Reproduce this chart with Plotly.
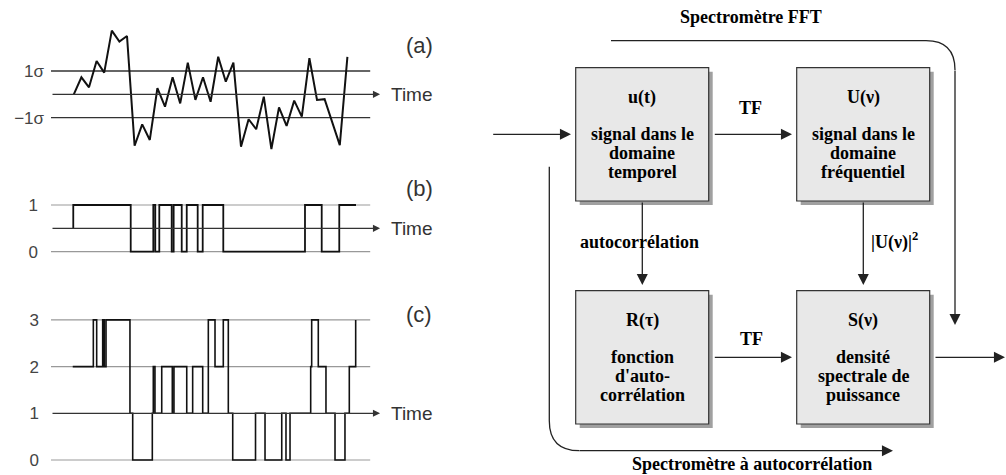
import plotly.graph_objects as go

W, H = 1006, 475
SANS = 'Liberation Sans'
SERIF = 'Liberation Serif'

# (a) analog signal, values in units of sigma
a_time = [3, 4, 5, 6, 7, 8, 9, 10, 11, 12, 13, 14, 15, 16, 17, 18, 19, 20,
          21, 22, 23, 24, 25, 26, 27, 28, 29, 30, 31, 32, 33, 34, 35, 36, 38, 39]
a_value = [0, 0.73, 0.30, 1.43, 0.93, 2.73, 2.26, 2.50, -2.21, -1.29, -1.96, 0.26,
           -0.53, 0.73, -0.39, 1.36, -0.24, 0.73, -0.32, 1.61, 0.54, 1.36, -2.25,
           -1.07, -1.50, -0.10, -2.35, -0.56, -1.36, -0.27, -0.96, 1.55, -0.24,
           -0.21, -2.18, 1.61]

# (b) one-bit quantized signal (step times, level after the step)
b_time = [2.93, 2.93, 10.49, 13.46, 13.72, 14.25, 15.88, 16.14, 17.20, 17.86,
          19.30, 19.96, 22.67, 33.42, 35.62, 37.93, 40.13]
b_level = [0.5, 1, 0, 1, 0, 1, 0, 1, 0, 1, 0, 1, 0, 1, 0, 1, 1]

# (c) two-bit (four level) quantized signal
c_time = [2.86, 5.57, 6.01, 6.80, 7.01, 7.24, 10.39, 10.75, 13.33, 13.46, 13.68,
          14.57, 15.96, 16.18, 17.86, 18.64, 19.96, 20.70, 21.58, 22.67, 23.33,
          23.91, 26.91, 28.16, 30.36, 30.92, 31.45, 34.17, 34.30, 35.17, 36.18,
          37.37, 38.68, 39.25, 40.09]
c_level = [2, 3, 2, 3, 2, 3, 1, 0, 1, 2, 1, 2, 1, 2, 1, 2, 1, 3, 2, 3, 1, 0, 1,
           0, 1, 0, 1, 2, 3, 2, 1, 0, 1, 2, 3]

a_ticks = [1, -1]
a_ticktext = ['1σ', '−1σ']
b_ticks = [1, 0]
c_ticks = [3, 2, 1, 0]

# diagram boxes: (left, top, title, lines)
BOXES = [
    (575.7, 67.7, 'u(t)', ['signal dans le', 'domaine', 'temporel']),
    (796.7, 67.7, 'U(ν)', ['signal dans le', 'domaine', 'fréquentiel']),
    (575.7, 290.7, 'R(τ)', ['fonction', "d'auto-", 'corrélation']),
    (796.7, 290.7, 'S(ν)', ['densité', 'spectrale de', 'puissance']),
]
BOX_W, BOX_H = 133, 133.3

X0, STEP, TMAX = 51, 7.6, 44


def ydom(bottom_px, top_px):
    return [1 - bottom_px / H, 1 - top_px / H]


fig = go.Figure()

fig.add_trace(go.Scatter(x=a_time, y=a_value, mode='lines',
                         line=dict(color='#111', width=2), xaxis='x', yaxis='y'))
fig.add_trace(go.Scatter(x=b_time, y=b_level, mode='lines', line_shape='hv',
                         line=dict(color='#111', width=1.8), xaxis='x2', yaxis='y2'))
fig.add_trace(go.Scatter(x=c_time, y=c_level, mode='lines', line_shape='hv',
                         line=dict(color='#111', width=1.6), xaxis='x3', yaxis='y3'))
# empty trace so the pixel overlay axes exist
fig.add_trace(go.Scatter(x=[], y=[], xaxis='x4', yaxis='y4'))

xdom = [X0 / W, (X0 + TMAX * STEP) / W]
tickfont = dict(family=SANS, size=17, color='#444')
common_x = dict(range=[0, TMAX], domain=xdom, visible=False, automargin=False)
common_y = dict(showgrid=False, zeroline=False, showline=False, ticks='',
                tickfont=tickfont, automargin=False)

fig.update_layout(
    width=W, height=H,
    margin=dict(l=0, r=0, t=0, b=0, pad=0),
    plot_bgcolor='rgba(0,0,0,0)', paper_bgcolor='white',
    showlegend=False,
    xaxis=dict(common_x, anchor='y'),
    xaxis2=dict(common_x, anchor='y2'),
    xaxis3=dict(common_x, anchor='y3'),
    yaxis=dict(common_y, anchor='x', range=[-3, 3], domain=ydom(164.2, 24.4),
               tickvals=a_ticks, ticktext=a_ticktext, ticklabelstandoff=6),
    yaxis2=dict(common_y, anchor='x2', range=[-0.5, 1.5], domain=ydom(275.05, 181.65),
                tickvals=b_ticks, ticklabelstandoff=12),
    yaxis3=dict(common_y, anchor='x3', range=[-0.3, 3.3], domain=ydom(474.01, 305.89),
                tickvals=c_ticks, ticklabelstandoff=11),
    xaxis4=dict(range=[0, W], domain=[0, 1], visible=False, anchor='y4', automargin=False),
    yaxis4=dict(range=[H, 0], domain=[0, 1], visible=False, anchor='x4', automargin=False),
)

# reference levels of the three signal panels
END = 42
for v in [1, -1]:
    fig.add_shape(type='line', xref='x', yref='y', x0=0, x1=END, y0=v, y1=v,
                  line=dict(color='#333', width=1.4), layer='below')
for v in [0, 1]:
    fig.add_shape(type='line', xref='x2', yref='y2', x0=0, x1=END, y0=v, y1=v,
                  line=dict(color='#999', width=1.2), layer='below')
for v in [0, 2, 3]:
    fig.add_shape(type='line', xref='x3', yref='y3', x0=0, x1=END, y0=v, y1=v,
                  line=dict(color='#999', width=1.2), layer='below')

for ax, v in [('', 0), ('2', 0.5), ('3', 1)]:
    fig.add_annotation(x=43.3, y=v, ax=0, ay=v, xref='x' + ax, yref='y' + ax,
                       axref='x' + ax, ayref='y' + ax, text='', showarrow=True,
                       arrowhead=2, arrowsize=1.1, arrowwidth=1.3, arrowcolor='#333')

for y in [94.3, 228.7, 413.3]:
    fig.add_annotation(x=389, y=y, xref='x4', yref='y4', text='Time', showarrow=False,
                       xanchor='left', font=dict(family=SANS, size=19, color='#333'))
for y, t in [(45, '(a)'), (188, '(b)'), (314, '(c)')]:
    fig.add_annotation(x=419, y=y, xref='x4', yref='y4', text=t, showarrow=False,
                       font=dict(family=SANS, size=22, color='#333'))


def label(x, y, text, size=18, xanchor='center'):
    fig.add_annotation(x=x, y=y, xref='x4', yref='y4', text='<b>' + text + '</b>',
                       showarrow=False, xanchor=xanchor,
                       font=dict(family=SERIF, size=size, color='black'))


def arrow(x0, y0, x1, y1):
    fig.add_annotation(x=x1, y=y1, ax=x0, ay=y0, xref='x4', yref='y4',
                       axref='x4', ayref='y4', text='', showarrow=True,
                       arrowhead=2, arrowsize=1.7, arrowwidth=1.3, arrowcolor='#222')


for left, top, title, lines in BOXES:
    fig.add_shape(type='rect', xref='x4', yref='y4', x0=left + 4, x1=left + BOX_W + 4,
                  y0=top + 4, y1=top + BOX_H + 4, fillcolor='#a0a0a0', line_width=0)
    fig.add_shape(type='rect', xref='x4', yref='y4', x0=left, x1=left + BOX_W,
                  y0=top, y1=top + BOX_H, fillcolor='#e8e8e8',
                  line=dict(color='#333', width=1.2))
    cx = left + BOX_W / 2
    label(cx, top + 30, title)
    for i, ln in enumerate(lines):
        label(cx, top + 66.5 + 19 * i, ln)

# flows
arrow(491.7, 134.3, 571, 134.3)
arrow(713.3, 134.3, 792, 134.3)
arrow(713.3, 357.3, 792, 357.3)
arrow(934, 357.3, 1005, 357.3)
arrow(642.3, 201, 642.3, 285)
arrow(863.3, 201, 863.3, 285)

# FFT spectrometer path (top)
fig.add_shape(type='path', xref='x4', yref='y4',
              path='M 611 40.7 L 926 40.7 Q 955 40.7 955 70',
              line=dict(color='#222', width=1.3))
arrow(955, 69, 955, 325)
# autocorrelation spectrometer path (bottom)
fig.add_shape(type='path', xref='x4', yref='y4',
              path='M 549.3 166.7 L 549.3 420.7 Q 549.3 450.7 579.3 450.7',
              line=dict(color='#222', width=1.3))
arrow(578, 450.7, 893, 450.7)

label(750.7, 17, 'Spectromètre FFT')
label(750.7, 107.7, 'TF')
label(751, 339.3, 'TF')
label(639, 242.3, 'autocorrélation')
label(869, 241, '|U(ν)|<sup>2</sup>', xanchor='left')
label(751.7, 464.3, 'Spectromètre à autocorrélation')

# the page's default body margin would push the figure out of the window
fig.write_html("out.html", config={'displayModeBar': False},
               post_script="document.body.style.margin='0';")
